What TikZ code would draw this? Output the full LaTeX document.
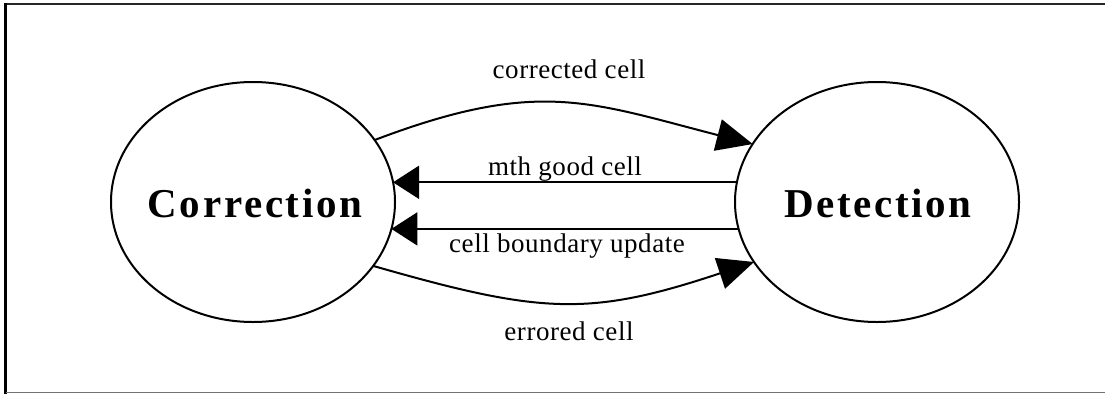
\documentclass[tikz,border=0pt]{standalone}
\usepackage{fontspec}
\setmainfont{Liberation Serif}
\newfontfamily\statefont[LetterSpace=6.5]{Liberation Serif}
\newfontfamily\labelfont[LetterSpace=2]{Liberation Serif}
\usetikzlibrary{arrows.meta,shapes.geometric}
\tikzset{
  state/.style={draw, ellipse, line width=2pt, minimum width=284pt, minimum height=240pt, inner sep=0pt, outer sep=0pt},
  statetext/.style={anchor=base, inner sep=0pt, font=\statefont\fontsize{41}{41}\selectfont\bfseries},
  edgelabel/.style={anchor=base, inner sep=0pt, font=\labelfont\fontsize{27}{27}\selectfont},
  curvedarrow/.style={line width=2pt, -{Triangle[length=36pt,width=32pt]}},
  straightarrow/.style={line width=2pt, -{Triangle[length=26pt,width=33pt]}},
}
\begin{document}
\begin{tikzpicture}[x=1pt,y=-1pt]
\useasboundingbox (0,0) rectangle (1105,394);
% frame
\draw[line width=2pt, black!85] (1105,3.7) -- (5.5,3.7);
\draw[line width=3pt, black] (5.5,2.7) -- (5.5,393.5);
\draw[line width=1pt, black!55] (5.5,392.8) -- (1105,392.8);
% states
\node[state] (C) at (253,202) {};
\node[state] (D) at (877,202) {};
\node[statetext] (Ct) at (255,217) {Correction};
\node[statetext] (Dt) at (878,217) {Detection};
% edges
\draw[curvedarrow] (C.27) .. controls (538,78) and (589,102) .. (D.155);
\draw[curvedarrow] (C.-28) .. controls (541,314) and (589,317) .. (D.206);
\coordinate (a1) at (D.172);
\coordinate (a2) at (D.191);
\draw[straightarrow] (a1) -- (C.8 |- a1);
\draw[straightarrow] (a2) -- (C.-11 |- a2);
% labels
\node[edgelabel] (l1) at (569,78) {corrected cell};
\node[edgelabel] (l2) at (565,175) {mth good cell};
\node[edgelabel] (l3) at (567,252) {cell boundary update};
\node[edgelabel] (l4) at (569,340) {errored cell};
\end{tikzpicture}
\end{document}
